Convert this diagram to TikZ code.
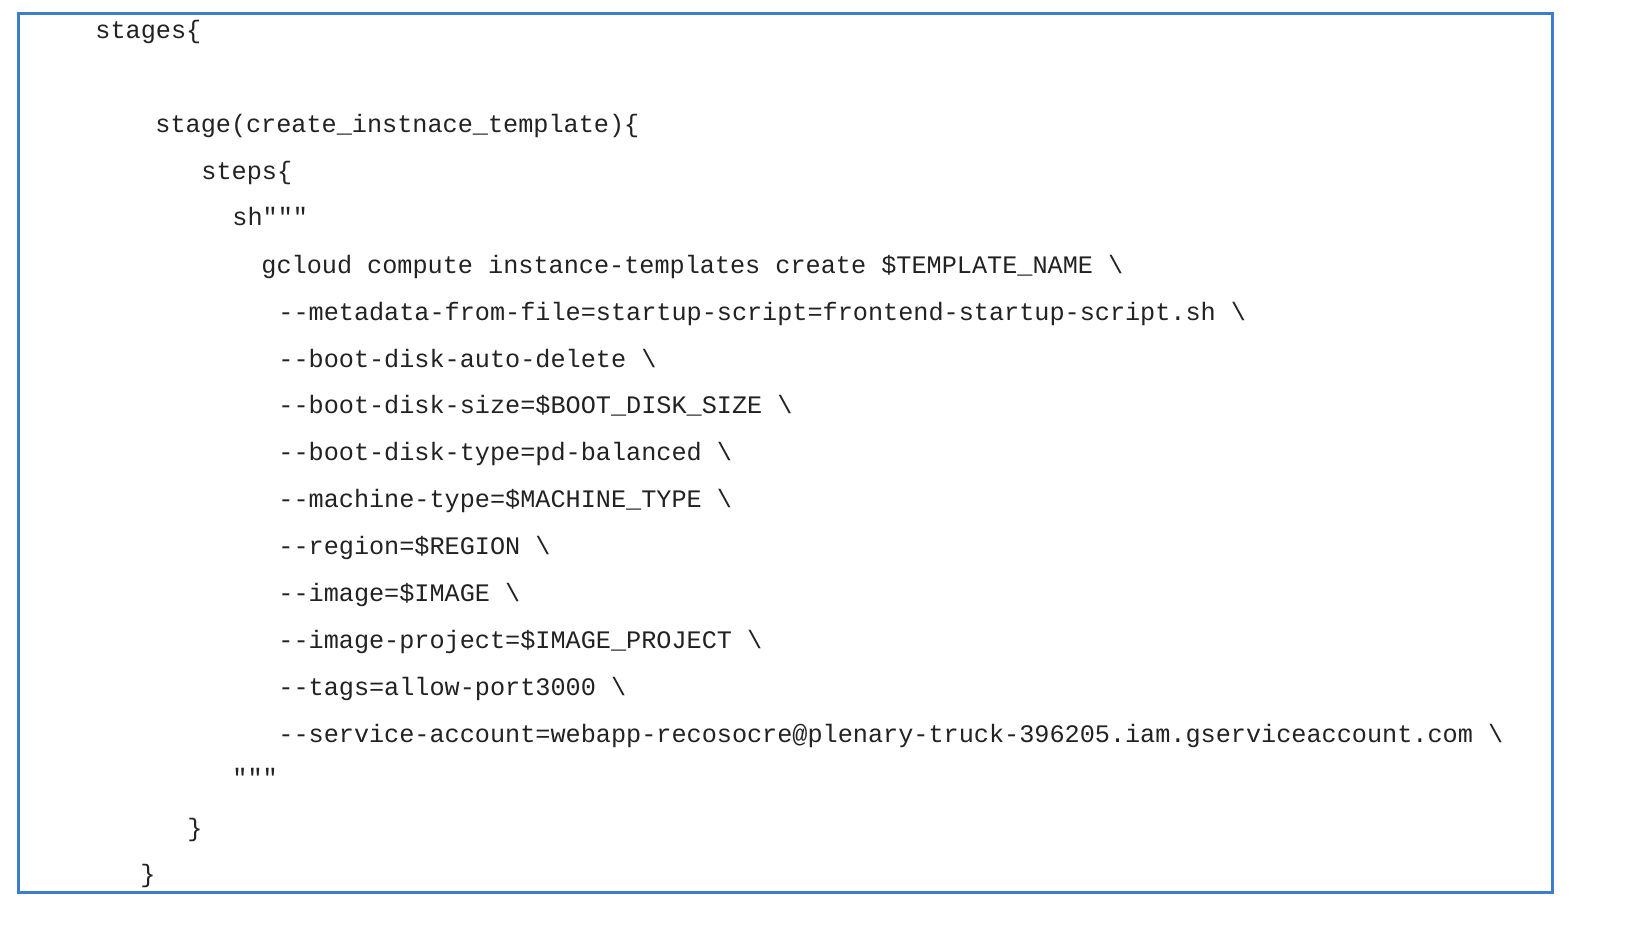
\documentclass[tikz,border=0pt]{standalone}
\usepackage{fontspec}
\setmonofont{Liberation Mono}
\definecolor{frameblue}{RGB}{60,125,205}
\definecolor{codetext}{RGB}{34,34,34}
\tikzset{code/.style={anchor=base west,inner sep=0pt,text=codetext,font=\ttfamily\fontsize{12.6}{14}\selectfont}}
\begin{document}
\begin{tikzpicture}[x=0.5pt,y=-0.5pt]
\useasboundingbox (0,0) rectangle (1626,943);
\draw[frameblue,line width=1.5pt] (18,13) rectangle (1552,892);
\node[code] (l1) at (95,38) {stages\{};
\node[code] (l2) at (155,132) {stage(create\_instnace\_template)\{};
\node[code] (l3) at (201,179) {steps\{};
\node[code] (l4) at (232,225) {sh"""};
\node[code] (l5) at (261,273) {gcloud compute instance-templates create \$TEMPLATE\_NAME \textbackslash};
\node[code] (l6) at (278,320) {--metadata-from-file=startup-script=frontend-startup-script.sh \textbackslash};
\node[code] (l7) at (278,367) {--boot-disk-auto-delete \textbackslash};
\node[code] (l8) at (278,413) {--boot-disk-size=\$BOOT\_DISK\_SIZE \textbackslash};
\node[code] (l9) at (278,460) {--boot-disk-type=pd-balanced \textbackslash};
\node[code] (l10) at (278,507) {--machine-type=\$MACHINE\_TYPE \textbackslash};
\node[code] (l11) at (278,554) {--region=\$REGION \textbackslash};
\node[code] (l12) at (278,601) {--image=\$IMAGE \textbackslash};
\node[code] (l13) at (278,648) {--image-project=\$IMAGE\_PROJECT \textbackslash};
\node[code] (l14) at (278,695) {--tags=allow-port3000 \textbackslash};
\node[code] (l15) at (278,742) {--service-account=webapp-recosocre@plenary-truck-396205.iam.gserviceaccount.com \textbackslash};
\node[code] (l16) at (232,786) {"""};
\node[code] (l17) at (187,836) {\}};
\node[code] (l18) at (140,882) {\}};
\end{tikzpicture}
\end{document}
